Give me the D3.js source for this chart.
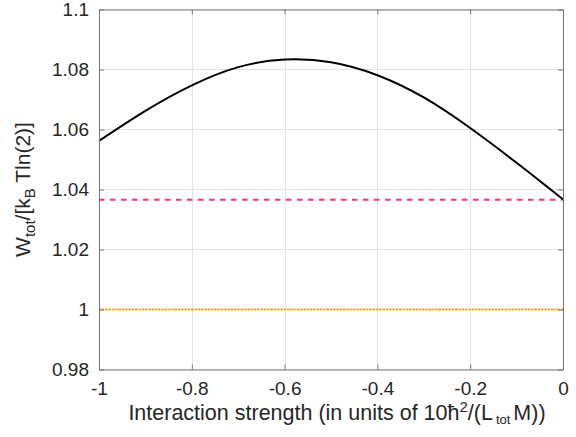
<!DOCTYPE html>
<html>
<head>
<meta charset="utf-8">
<script src="https://d3js.org/d3.v7.min.js"></script>
<style>
  body { margin: 0; background: #fff; }
  text { font-family: "Liberation Sans", Arial, sans-serif; fill: #262626; }
</style>
</head>
<body>
<script>

// values
var xValues = [-1, -0.9, -0.8, -0.7, -0.6, -0.5, -0.4, -0.3, -0.2, -0.1, 0];
var wValues = [1.0562, 1.0662, 1.0747, 1.0808, 1.0833, 1.0824, 1.0781, 1.0707, 1.0605, 1.0489, 1.0367];
var dashedLevel = 1.0366;
var dottedLevel = 1.0;
var xTicks = [-1, -0.8, -0.6, -0.4, -0.2, 0];
var yTicks = [0.98, 1, 1.02, 1.04, 1.06, 1.08, 1.1];

// axes box in page pixels
var margin = {top: 9.5, right: 13, bottom: 67.5, left: 99},
    width = 576 - margin.left - margin.right,
    height = 437 - margin.top - margin.bottom;

var svg = d3.select("body").append("svg")
    .attr("width", 576)
    .attr("height", 437)
  .append("g")
    .attr("transform", "translate(" + margin.left + "," + margin.top + ")");

var x = d3.scaleLinear().domain([-1, 0]).range([0, width]);
var y = d3.scaleLinear().domain([0.98, 1.1]).range([height, 0]);

var fmt = function(v) { return String(+v.toFixed(2)); };

// grid
svg.append("g").selectAll("line").data(xTicks).enter().append("line")
    .attr("x1", function(d) { return Math.round(x(d)) + 0.5; })
    .attr("x2", function(d) { return Math.round(x(d)) + 0.5; })
    .attr("y1", 0).attr("y2", height)
    .attr("stroke", "#e3e3e3").attr("stroke-width", 1);
svg.append("g").selectAll("line").data(yTicks).enter().append("line")
    .attr("y1", function(d) { return y(d); })
    .attr("y2", function(d) { return y(d); })
    .attr("x1", 0).attr("x2", width)
    .attr("stroke", "#e3e3e3").attr("stroke-width", 1);

// horizontal reference lines
svg.append("line")
    .attr("x1", x(-1)).attr("x2", x(0))
    .attr("y1", y(dottedLevel)).attr("y2", y(dottedLevel))
    .attr("stroke", "#ff9900").attr("stroke-width", 2)
    .attr("stroke-dasharray", "2,1.3");

svg.append("line")
    .attr("x1", x(-1)).attr("x2", x(0))
    .attr("y1", y(dashedLevel)).attr("y2", y(dashedLevel))
    .attr("stroke", "#ff3366").attr("stroke-width", 2)
    .attr("stroke-dasharray", "5.5,5.5");

// main curve
var pts = xValues.map(function(v, i) { return [v, wValues[i]]; });
var valueline = d3.line()
    .x(function(d) { return x(d[0]); })
    .y(function(d) { return y(d[1]); })
    .curve(d3.curveNatural);

svg.append("path")
    .datum(pts)
    .attr("fill", "none")
    .attr("stroke", "#000")
    .attr("stroke-width", 2)
    .attr("d", valueline);

// axes (box with inward ticks on all sides)
var tk = 5;
svg.append("g").attr("transform", "translate(0," + height + ")")
    .call(d3.axisBottom(x).tickValues(xTicks).tickFormat(fmt).tickSizeInner(-tk).tickSizeOuter(0).tickPadding(12));
svg.append("g")
    .call(d3.axisTop(x).tickValues(xTicks).tickFormat("").tickSizeInner(-tk).tickSizeOuter(0));
svg.append("g")
    .call(d3.axisLeft(y).tickValues(yTicks).tickFormat(fmt).tickSizeInner(-tk).tickSizeOuter(0).tickPadding(10));
svg.append("g").attr("transform", "translate(" + width + ",0)")
    .call(d3.axisRight(y).tickValues(yTicks).tickFormat("").tickSizeInner(-tk).tickSizeOuter(0));

svg.selectAll(".domain").attr("stroke", "#777");
svg.selectAll(".tick line").attr("stroke", "#777");
svg.selectAll(".tick text").style("font-size", "19px").attr("fill", "#262626");

// x label
var xl = svg.append("text")
    .attr("x", width / 2 + 6)
    .attr("y", height + 50)
    .style("text-anchor", "middle")
    .style("font-size", "21.5px");
xl.append("tspan").text("Interaction strength (in units of 10\u0127");
xl.append("tspan").attr("dy", -8).style("font-size", "15px").text("2");
xl.append("tspan").attr("dy", 8).text("/(L");
xl.append("tspan").attr("dy", 4).attr("dx", 3).style("font-size", "13px").text("tot");
xl.append("tspan").attr("dy", -4).attr("dx", 3).text("M))");

// y label
var yl = svg.append("text")
    .attr("transform", "translate(" + (30 - margin.left) + "," + (height / 2) + ") rotate(-90)")
    .style("text-anchor", "middle")
    .style("font-size", "21px");
yl.append("tspan").text("W");
yl.append("tspan").attr("dy", 5).style("font-size", "15px").text("tot");
yl.append("tspan").attr("dy", -5).text("/[k");
yl.append("tspan").attr("dy", 5).style("font-size", "15px").text("B");
yl.append("tspan").attr("dy", -5).text(" Tln(2)]");

</script>
</body>
</html>
